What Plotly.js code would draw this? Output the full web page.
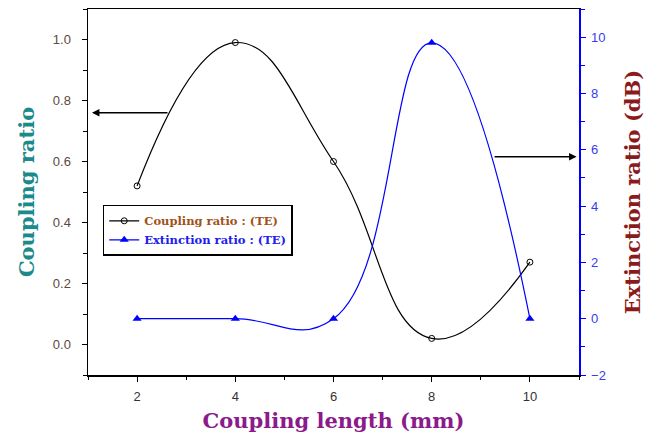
<!DOCTYPE html>
<html><head><meta charset="utf-8">
<script src="https://cdn.plot.ly/plotly-3.0.1.min.js"></script>
<style>html,body{margin:0;padding:0;background:#fff}</style>
</head><body><div id="chart" style="width:659px;height:438px"></div>
<script>
const couplingLength = [2, 4, 6, 8, 10];
const couplingRatio = [0.52, 0.99, 0.60, 0.02, 0.27];
const extinctionRatio = [0, 0, 0, 9.8, 0];
const xTicks = [2, 4, 6, 8, 10];
const yTicks = [0, 0.2, 0.4, 0.6, 0.8, 1.0];
const y2Ticks = [-2, 0, 2, 4, 6, 8, 10];

const traces = [
  {x: couplingLength, y: couplingRatio, type: 'scatter', mode: 'lines+markers',
   name: '<span style="color:#a0521a">Coupling ratio : (TE)</span>',
   line: {color: '#000', width: 1.2, shape: 'spline', smoothing: 1.3},
   marker: {symbol: 'circle-open', size: 6, color: '#000', line: {width: 1, color: '#000'}}},
  {x: couplingLength, y: extinctionRatio, type: 'scatter', mode: 'lines+markers', yaxis: 'y2',
   name: '<span style="color:#2020ee">Extinction ratio : (TE)</span>',
   line: {color: '#0000ff', width: 1.2, shape: 'spline', smoothing: 1.3},
   marker: {symbol: 'triangle-up', size: 8, color: '#0000ff'}}
];

const serif = 'DejaVu Serif, serif';
const layout = {
  width: 659, height: 438,
  margin: {l: 88, r: 80, t: 9, b: 63},
  paper_bgcolor: '#fff', plot_bgcolor: '#fff',
  showlegend: true,
  legend: {x: 0.03, y: 0.465, xanchor: 'left', yanchor: 'top', bgcolor: '#fff',
    bordercolor: '#000', borderwidth: 1.5,
    font: {family: serif, size: 11.5, weight: 'bold'},
    tracegroupgap: 0},
  xaxis: {range: [1, 11], tickvals: xTicks, showline: true, linecolor: '#000', linewidth: 1.5,
    mirror: true, ticks: 'outside', ticklen: 5, tickcolor: '#000', showgrid: false, zeroline: false,
    ticklabelstandoff: 4,
    minor: {ticks: 'outside', ticklen: 3, tickcolor: '#000', dtick: 1},
    tickfont: {family: 'Liberation Sans, Arial, sans-serif', size: 13, color: '#333'},
    title: {text: 'Coupling length (mm)', standoff: 10,
      font: {family: serif, size: 21, color: '#8b1a8b', weight: 'bold'}}},
  yaxis: {range: [-0.1, 1.1], tickvals: yTicks, ticktext: ['0.0','0.2','0.4','0.6','0.8','1.0'],
    showline: true, linecolor: '#000', linewidth: 1.5,
    ticks: 'outside', ticklen: 5, tickcolor: '#000', showgrid: false, zeroline: false,
    ticklabelstandoff: 8,
    minor: {ticks: 'outside', ticklen: 4, tickcolor: '#000', dtick: 0.1},
    tickfont: {family: 'Liberation Sans, Arial, sans-serif', size: 13, color: '#5a4a40'},
    title: {text: 'Coupling ratio', standoff: 12,
      font: {family: serif, size: 21, color: '#1a8a8a', weight: 'bold'}}},
  yaxis2: {overlaying: 'y', side: 'right', range: [-2, 11], tickvals: y2Ticks,
    showline: true, linecolor: '#0000ff', linewidth: 1.5,
    ticks: 'outside', ticklen: 5, tickcolor: '#0000ff', showgrid: false, zeroline: false,
    ticklabelstandoff: 3,
    minor: {ticks: 'outside', ticklen: 4, tickcolor: '#0000ff', dtick: 1},
    tickfont: {family: 'Liberation Sans, Arial, sans-serif', size: 13, color: '#3a3aee'},
    title: {text: 'Extinction ratio (dB)', standoff: 20,
      font: {family: serif, size: 21, color: '#8b1a1a', weight: 'bold'}}},
  annotations: [
    {x: 1.08, y: 0.76, xref: 'x', yref: 'y', ax: 2.65, ay: 0.76, axref: 'x', ayref: 'y',
     text: '', showarrow: true, arrowhead: 2, arrowsize: 1, arrowwidth: 1.5, arrowcolor: '#000'},
    {x: 10.95, y: 5.75, xref: 'x', yref: 'y2', ax: 9.25, ay: 5.75, axref: 'x', ayref: 'y2',
     text: '', showarrow: true, arrowhead: 2, arrowsize: 1, arrowwidth: 1.5, arrowcolor: '#000'}
  ]
};

Plotly.newPlot('chart', traces, layout, {displayModeBar: false, staticPlot: true});
</script></body></html>
